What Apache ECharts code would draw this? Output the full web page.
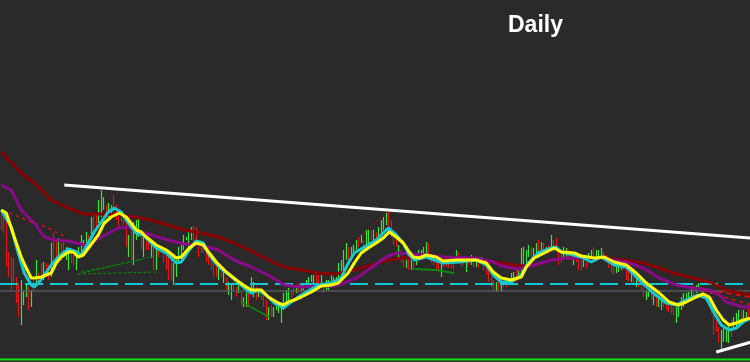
<!DOCTYPE html>
<html>
<head>
<meta charset="utf-8">
<script src="https://cdn.jsdelivr.net/npm/echarts@6/dist/echarts.min.js"></script>
<style>
html,body{margin:0;padding:0;background:#2a2a2a;}
#chart{width:750px;height:362px;}
</style>
</head>
<body>
<div id="chart"></div>
<script>
// ---- Daily bars (bar index = day), high / low in price units, up = 1 green / 0 red ----
const barHigh = [
 150,149,150,110,105,104,85,79,82,72, 79,75,72,82,102,89,99,100,99,97,
 119,129,122,124,119,122,115,112,109,107, 112,115,127,122,130,127,145,149,149,162,
 172,165,157,159,157,167,157,149,149,147,
 142,127,132,140,142,144,132,129,125,125, 122,117,115,115,114,110,109,105,102,99,
 102,115,117,127,125,132,135,136,135,115, 117,115,112,109,104,99,99,95,95,92,
 85,80,79,84,75,79,70,65,72,69,
 85,80,75,72,74,72,62,55,57,55, 59,55,55,69,72,74,72,77,75,79,
 77,79,82,85,87,87,90,87,87,79, 82,82,87,85,85,99,102,112,119,115,
 115,117,122,125,127,122,132,132,132,132,
 130,135,142,145,149,150,142,127,125,117, 112,105,102,105,102,100,109,112,112,115,
 120,119,105,105,100,99,100,102,102,100, 99,102,112,110,102,104,105,102,107,104,
 105,102,105,102,99,92,85,82,80,82,
 80,80,82,84,89,90,94,92,114,115, 112,117,115,114,119,122,120,119,115,117,
 127,122,124,112,112,115,114,112,109,105, 105,104,102,102,100,109,112,115,112,112,
 114,110,107,104,100,97,95,97,97,99,
 94,92,89,85,84,85,80,79,72,72, 75,69,65,65,62,62,59,60,59,55,
 55,59,65,69,69,70,74,75,77,79, 75,72,69,65,59,55,42,35,32,34,
 35,37,42,45,49,52,52,52,50,54
];
const barLow = [
 132,129,95,85,72,79,59,45,37,57, 65,52,55,72,79,79,82,82,85,82,
 85,102,104,105,102,109,102,92,99,97, 92,105,109,115,119,119,125,129,132,139,
 145,152,145,145,147,145,142,135,140,137,
 115,105,102,97,122,125,112,105,112,112, 104,92,92,105,109,99,92,82,82,77,
 85,99,102,112,122,115,122,115,120,105, 109,109,100,97,92,85,85,82,85,79,
 72,67,62,72,65,69,57,55,55,55,
 69,65,62,65,62,55,42,42,45,45, 52,49,39,52,59,62,64,67,69,69,
 70,72,75,79,80,79,79,75,79,69, 72,72,75,79,80,84,85,92,102,102,
 105,109,109,115,119,109,115,117,122,122,
 119,124,129,132,137,134,125,117,115,105, 99,95,94,92,92,92,97,105,105,107,
 109,102,99,97,92,92,85,95,95,94, 94,92,102,102,95,97,90,97,97,95,
 95,94,99,92,87,80,75,72,70,72,
 70,75,75,79,80,80,80,85,84,95, 99,105,102,105,109,110,112,109,110,109,
 112,110,112,97,99,105,105,102,102,97, 100,92,92,95,94,102,104,104,105,104,
 105,104,100,94,89,87,89,90,92,92,
 82,80,80,79,75,75,72,65,62,65, 62,57,55,55,52,55,52,50,49,47,
 39,45,52,55,60,62,65,65,69,72, 69,65,62,59,49,27,30,19,12,20,
 20,19,25,32,35,39,42,44,44,42
];
const barUp = [
 0,0,0,0,0,0,0,0,1,1, 1,0,1,0,1,0,0,1,0,0, 1,0,0,1,0,0,1,1,0,0, 1,1,1,1,1,0,1,0,0,1, 1,1,0,1,1,0,0,0,0,0,
 0,1,0,1,1,1,0,1,0,0, 1,0,1,0,0,0,0,0,0,1, 1,1,1,1,1,1,1,0,0,0, 0,0,0,0,0,0,0,1,0,1, 0,1,1,0,0,1,0,1,1,0,
 1,1,0,1,0,0,0,1,0,1, 1,1,1,1,1,1,0,0,1,0, 1,1,1,1,1,1,0,0,1,0, 1,1,1,1,1,1,1,1,1,0, 1,1,1,0,1,0,1,1,0,1,
 0,1,1,1,1,0,0,0,0,1, 0,0,1,0,1,0,1,1,1,1, 1,0,0,0,0,0,1,0,0,0, 0,0,1,0,0,0,1,0,1,0, 1,0,1,0,0,0,0,0,1,0,
 1,0,0,0,1,1,0,1,1,1, 1,1,0,1,1,0,1,0,1,0, 1,0,0,0,0,1,1,0,0,1, 0,0,0,1,0,1,1,0,1,1, 1,0,0,0,0,0,1,1,1,0,
 0,0,1,0,1,0,0,0,1,1, 0,1,0,1,1,0,0,0,0,0, 1,1,1,1,1,1,1,0,1,1, 0,0,0,0,0,0,0,0,1,1, 1,1,0,1,1,1,0,1,1,0
];

// ---- Moving averages: [day, value] ----
const maSlow = [[0,210],[8,189],[13.2,179],[20,162],[26.8,154],[33.2,148],[40,148],[46.8,147],[53.2,145],[60,142],[66.8,137],[73.2,132],[80,129],[86.8,125],[93.2,119],[100,111],[106.8,102],[113.2,95],[120,92],[126.8,89],[133.2,88],[140,91],[146.8,96],[153.2,101],[160,104],[170,104],[180,103],[190,102],[200,99],[208,96],[213.2,97],[220,102],[226.8,104],[240,104],[250,102],[256.8,99],[263.2,94],[270,88],[276.8,84],[283.2,80],[290,72],[300,67]];
const maMid = [[0,177],[4,172],[8,152],[13.2,139],[17.2,125],[21.2,122],[26.8,121],[33.2,117],[36,119],[40,125],[46.8,134],[50.8,135],[53.2,132],[60,127],[66.8,122],[73.2,118],[80,117],[86.8,112],[93.2,102],[100,95],[106.8,87],[113.2,77],[120,75],[126.8,76],[133.2,76],[137.2,79],[142.8,85],[150,98],[154,105],[158,109],[164,108],[170,107],[176.8,105],[190,104],[196.8,100],[200,96],[206.8,93],[213.2,97],[220,102],[226.8,104],[240,104],[250,100],[256.8,94],[263.2,84],[270,77],[276.8,74],[283.2,72],[287.2,67],[290,60],[296.8,55],[300,55]];
const maFast = [[0,152],[4,135],[6.8,109],[9.2,89],[12,77],[13.2,75],[14.8,79],[16.8,85],[20,97],[22.8,105],[26.8,113],[29.2,111],[32,107],[34.8,119],[37.2,130],[40,140],[42.8,150],[45.2,154],[48,150],[50,142],[54,129],[56.8,127],[62,114],[66,109],[70,99],[72,100],[75.2,112],[78,121],[80.8,119],[83.2,107],[87.2,95],[92.8,84],[96.8,75],[100,69],[102.8,72],[106,67],[109.2,59],[112.8,54],[116,60],[120,67],[126.8,77],[132,79],[136,84],[138.8,99],[141.2,109],[145.2,115],[150,122],[152.8,129],[154.8,134],[158,127],[160.8,119],[163.2,107],[165.2,102],[170,105],[176.8,99],[183.2,100],[190,102],[194,97],[196.8,87],[200,80],[204,80],[208,87],[210.8,99],[214.8,109],[220,114],[222,115],[224,110],[232,105],[236,100],[240,105],[245.2,97],[250,95],[255.2,82],[260.8,69],[266,59],[270,57],[274,62],[278.8,67],[282,64],[285.2,49],[288,37],[291.2,32],[294,34],[296.8,40],[300,44]];
const maSignal = [[0,152],[2,149],[5.2,125],[8,105],[10,94],[12,84],[13.2,84],[16,85],[20,89],[22,99],[24,105],[26.8,110],[28.8,110],[30.8,105],[32.8,107],[35.2,115],[38.8,127],[41.2,139],[44,145],[47.2,149],[50,145],[54,132],[56,130],[58,125],[62,117],[66,112],[70,104],[72,105],[75.2,114],[78,119],[80.8,117],[83.2,109],[86,100],[90,90],[94,82],[96.8,77],[100,72],[104,72],[106.8,65],[110.8,59],[112.8,57],[114.8,60],[117.2,62],[120,65],[124,70],[128,76],[132,77],[134.8,79],[138.8,89],[141.2,99],[144,109],[146.8,114],[150,119],[152.8,124],[155.2,130],[158,125],[160.8,119],[163.2,110],[164.8,105],[167.2,104],[170,107],[174,105],[176.8,101],[182,102],[190,102],[194,99],[196.8,90],[200,84],[204,82],[208,85],[210,95],[213.2,104],[217.2,109],[221.2,114],[224,110],[229.2,109],[232,106],[237.2,104],[241.2,105],[245.2,100],[250,97],[254,89],[258,79],[263.2,69],[267.2,60],[270.8,57],[274,60],[278,65],[280.8,68],[283.2,65],[286,52],[288.8,42],[291.2,37],[294,39],[296.8,42],[300,44]];

// ---- Trendlines / drawings: [day, value] ----
const upperTrend = [[25.2,177],[300,124]];
const lowerTrend = [[286,10],[300,20]];
const redDotA = [[3.2,149],[12,140],[18,135],[24.8,126]];
const redDotB = [[144,127],[154.8,151]];
const redDotC = [[276,75],[300,65]];
const redDotD = [[280,72],[300,57]];
const greenDot1 = [[30.8,88],[61.2,106]];
const greenDot2 = [[30.8,88],[62,90]];
const greenDot3 = [[32,90],[56,102]];
const greenSeg1 = [[96,60],[107.2,45]];
const greenSeg2 = [[165.2,93],[174,92],[174,91],[181.2,89]];

// ---- Horizontal levels ----
const levelCyan = 78;
const levelGray = 71;
const levelGreen = 2.5;

const X_MIN = -0.5, X_MAX = 299.5;
const GREEN = '#33e833', RED = '#e81414';

const barData = barHigh.map((h, i) => [i, barLow[i], h, barUp[i]]);
const hline = v => [[X_MIN, v], [X_MAX, v]];

function lineSeries(data, color, width, type, z) {
  return {
    type: 'line', data: data, showSymbol: false, symbol: 'none', silent: true,
    lineStyle: { color: color, width: width, type: type || 'solid', cap: 'butt' },
    z: z || 3, animation: false
  };
}

const chart = echarts.init(document.getElementById('chart'), null, { renderer: 'canvas' });
chart.setOption({
  backgroundColor: '#2a2a2a',
  animation: false,
  title: {
    text: 'Daily', left: 508, top: 14, padding: 0,
    textStyle: { color: '#ffffff', fontSize: 23, fontWeight: 'bold', fontFamily: 'Liberation Sans, Arial, sans-serif' }
  },
  grid: { left: 0, right: 0, top: 0, bottom: 0 },
  xAxis: { type: 'value', min: X_MIN, max: X_MAX, show: false, splitLine: { show: false } },
  yAxis: { type: 'value', min: 0, max: 362, show: false, splitLine: { show: false } },
  series: [
    {
      type: 'custom', data: barData, z: 2, silent: true,
      renderItem: function (params, api) {
        const x = api.value(0);
        const lo = api.coord([x, api.value(1)]);
        const hi = api.coord([x, api.value(2)]);
        const px = Math.round(lo[0] - 0.5) + 0.5;
        return {
          type: 'line',
          shape: { x1: px, y1: Math.round(lo[1]), x2: px, y2: Math.round(hi[1]) },
          style: { stroke: api.value(3) ? GREEN : RED, lineWidth: 1.2 }
        };
      }
    },
    lineSeries(hline(levelGray), '#555a60', 1.5, 'solid', 3),
    lineSeries(hline(levelCyan), '#10c8d2', 2, [18, 7], 3),
    lineSeries(hline(levelGreen), '#10e010', 2, 'solid', 3),
    lineSeries(greenDot1, '#0a8a0a', 1, [3, 2], 3),
    lineSeries(greenDot2, '#0a8a0a', 1, [3, 2], 3),
    lineSeries(greenDot3, '#0a8a0a', 1, [3, 2], 3),
    lineSeries(greenSeg1, '#0a8a0a', 1.5, 'solid', 3),
    lineSeries(greenSeg2, '#0a8a0a', 2, 'solid', 3),
    lineSeries(redDotA, '#e01010', 1.5, [3, 4], 3),
    lineSeries(redDotB, '#e01010', 1, [2, 2], 3),
    lineSeries(redDotC, '#e01010', 2, [5, 4], 3),
    lineSeries(redDotD, '#e01010', 1.5, [4, 4], 3),
    lineSeries(upperTrend, '#ffffff', 3, 'solid', 4),
    lineSeries(lowerTrend, '#ffffff', 3, 'solid', 4),
    lineSeries(maSlow, '#8b0000', 3, 'solid', 5),
    lineSeries(maMid, '#8a0a8a', 3, 'solid', 5),
    lineSeries(maFast, '#18c8d0', 3, 'solid', 6),
    lineSeries(maSignal, '#ffff00', 3, 'solid', 7)
  ]
});
</script>
</body>
</html>
